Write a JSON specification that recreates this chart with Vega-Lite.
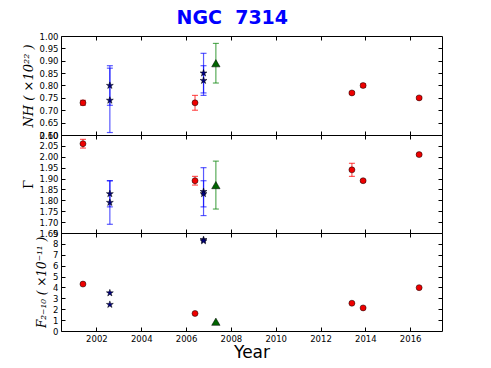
{
  "$schema": "https://vega.github.io/schema/vega-lite/v6.json",
  "padding": {"left": 21, "top": 8, "right": 5, "bottom": 5},
  "bounds": "flush",
  "title": {"text": "NGC \u00a07314", "font": "DejaVu Sans", "fontSize": 19, "fontWeight": "bold", "color": "#0000ff", "anchor": "middle", "offset": 4},
  "datasets": {
    "obs": [
      {"panel": "NH", "kind": "circle", "year": 2001.4, "val": 0.73, "lo": 0.72, "hi": 0.74},
      {"panel": "NH", "kind": "star", "year": 2002.6, "val": 0.80, "lo": 0.72, "hi": 0.88},
      {"panel": "NH", "kind": "star", "year": 2002.6, "val": 0.74, "lo": 0.61, "hi": 0.87},
      {"panel": "NH", "kind": "circle", "year": 2006.4, "val": 0.73, "lo": 0.70, "hi": 0.76},
      {"panel": "NH", "kind": "star", "year": 2006.78, "val": 0.85, "lo": 0.77, "hi": 0.93},
      {"panel": "NH", "kind": "star", "year": 2006.78, "val": 0.82, "lo": 0.76, "hi": 0.88},
      {"panel": "NH", "kind": "triangle", "year": 2007.33, "val": 0.89, "lo": 0.81, "hi": 0.97},
      {"panel": "NH", "kind": "circle", "year": 2013.4, "val": 0.77, "lo": 0.765, "hi": 0.775},
      {"panel": "NH", "kind": "circle", "year": 2013.9, "val": 0.80, "lo": 0.793, "hi": 0.807},
      {"panel": "NH", "kind": "circle", "year": 2016.4, "val": 0.75, "lo": 0.745, "hi": 0.755},
      {"panel": "G", "kind": "circle", "year": 2001.4, "val": 2.06, "lo": 2.04, "hi": 2.08},
      {"panel": "G", "kind": "star", "year": 2002.6, "val": 1.83, "lo": 1.77, "hi": 1.89},
      {"panel": "G", "kind": "star", "year": 2002.6, "val": 1.79, "lo": 1.69, "hi": 1.89},
      {"panel": "G", "kind": "circle", "year": 2006.4, "val": 1.89, "lo": 1.87, "hi": 1.91},
      {"panel": "G", "kind": "star", "year": 2006.78, "val": 1.84, "lo": 1.73, "hi": 1.95},
      {"panel": "G", "kind": "star", "year": 2006.78, "val": 1.83, "lo": 1.77, "hi": 1.89},
      {"panel": "G", "kind": "triangle", "year": 2007.33, "val": 1.87, "lo": 1.76, "hi": 1.98},
      {"panel": "G", "kind": "circle", "year": 2013.4, "val": 1.94, "lo": 1.91, "hi": 1.97},
      {"panel": "G", "kind": "circle", "year": 2013.9, "val": 1.89, "lo": 1.885, "hi": 1.895},
      {"panel": "G", "kind": "circle", "year": 2016.4, "val": 2.01, "lo": 2.005, "hi": 2.015},
      {"panel": "F", "kind": "circle", "year": 2001.4, "val": 4.31},
      {"panel": "F", "kind": "star", "year": 2002.6, "val": 3.49},
      {"panel": "F", "kind": "star", "year": 2002.6, "val": 2.43},
      {"panel": "F", "kind": "circle", "year": 2006.4, "val": 1.61},
      {"panel": "F", "kind": "star", "year": 2006.78, "val": 8.39},
      {"panel": "F", "kind": "star", "year": 2006.78, "val": 8.27},
      {"panel": "F", "kind": "triangle", "year": 2007.33, "val": 0.85},
      {"panel": "F", "kind": "circle", "year": 2013.4, "val": 2.55},
      {"panel": "F", "kind": "circle", "year": 2013.9, "val": 2.12},
      {"panel": "F", "kind": "circle", "year": 2016.4, "val": 3.98}
    ]
  },
  "data": {"name": "obs"},
  "spacing": 0,
  "vconcat": [
    {
      "width": 381, "height": 99,
      "transform": [{"filter": "datum.panel == 'NH'"}],
      "layer": [
        {
          "layer": [
            {"mark": {"type": "rule", "strokeWidth": 1.2, "opacity": 0.65},
             "encoding": {
               "x": {"field": "year", "type": "quantitative", "scale": {"domain": [2000.42, 2017.42], "nice": false, "zero": false}, "axis": {"values": [2002, 2004, 2006, 2008, 2010, 2012, 2014, 2016], "labels": false, "title": null}},
               "y": {"field": "lo", "type": "quantitative", "scale": {"domain": [0.6, 1.0], "nice": false, "zero": false}, "axis": {"values": [0.6, 0.65, 0.7, 0.75, 0.8, 0.85, 0.9, 0.95, 1.0], "format": ".2f", "labelOverlap": false, "title": "NH ( ×10²² )"}},
               "y2": {"field": "hi"},
               "color": {"field": "kind", "type": "nominal", "scale": {"domain": ["circle", "star", "triangle"], "range": ["#ff0000", "#0000ff", "#008000"]}, "legend": null}
             }},
            {"mark": {"type": "tick", "orient": "horizontal", "size": 6, "thickness": 1.2, "opacity": 0.65},
             "encoding": {
               "x": {"field": "year", "type": "quantitative", "axis": {"values": [2002, 2004, 2006, 2008, 2010, 2012, 2014, 2016], "labels": false, "title": null}},
               "y": {"field": "lo", "type": "quantitative", "axis": {"values": [0.6, 0.65, 0.7, 0.75, 0.8, 0.85, 0.9, 0.95, 1.0], "format": ".2f", "labelOverlap": false, "title": "NH ( ×10²² )"}},
               "color": {"field": "kind", "type": "nominal", "scale": {"domain": ["circle", "star", "triangle"], "range": ["#ff0000", "#0000ff", "#008000"]}, "legend": null}
             }},
            {"mark": {"type": "tick", "orient": "horizontal", "size": 6, "thickness": 1.2, "opacity": 0.65},
             "encoding": {
               "x": {"field": "year", "type": "quantitative", "axis": {"values": [2002, 2004, 2006, 2008, 2010, 2012, 2014, 2016], "labels": false, "title": null}},
               "y": {"field": "hi", "type": "quantitative", "axis": {"values": [0.6, 0.65, 0.7, 0.75, 0.8, 0.85, 0.9, 0.95, 1.0], "format": ".2f", "labelOverlap": false, "title": "NH ( ×10²² )"}},
               "color": {"field": "kind", "type": "nominal", "scale": {"domain": ["circle", "star", "triangle"], "range": ["#ff0000", "#0000ff", "#008000"]}, "legend": null}
             }},
            {"mark": {"type": "point", "filled": true, "opacity": 1, "stroke": "#000000", "strokeWidth": 0.5},
             "encoding": {
               "x": {"field": "year", "type": "quantitative", "axis": {"values": [2002, 2004, 2006, 2008, 2010, 2012, 2014, 2016], "labels": false, "title": null}},
               "y": {"field": "val", "type": "quantitative", "axis": {"values": [0.6, 0.65, 0.7, 0.75, 0.8, 0.85, 0.9, 0.95, 1.0], "format": ".2f", "labelOverlap": false, "title": "NH ( ×10²² )"}},
               "shape": {"field": "kind", "type": "nominal", "scale": {"domain": ["circle", "star", "triangle"], "range": ["circle", "M0,-1L0.2245,-0.309L0.951,-0.309L0.363,0.118L0.588,0.809L0,0.382L-0.588,0.809L-0.363,0.118L-0.951,-0.309L-0.2245,-0.309Z", "triangle-up"]}, "legend": null},
               "size": {"field": "kind", "type": "nominal", "scale": {"domain": ["circle", "star", "triangle"], "range": [36, 70, 60]}, "legend": null},
               "color": {"field": "kind", "type": "nominal", "scale": {"domain": ["circle", "star", "triangle"], "range": ["#ee0000", "#000080", "#006400"]}, "legend": null}
             }}
          ],
          "resolve": {"scale": {"color": "independent"}}
        },
        {"mark": {"type": "point", "opacity": 0},
         "encoding": {
           "x": {"field": "year", "type": "quantitative", "axis": {"orient": "top", "values": [2002, 2004, 2006, 2008, 2010, 2012, 2014, 2016], "labels": false, "title": null}},
           "y": {"field": "val", "type": "quantitative", "axis": {"orient": "right", "values": [0.65, 0.7, 0.75, 0.8, 0.85, 0.9, 0.95], "labels": false, "title": null}}
         }}
      ],
      "resolve": {"axis": {"x": "independent", "y": "independent"}}
    },
    {
      "width": 381, "height": 98,
      "transform": [{"filter": "datum.panel == 'G'"}],
      "layer": [
        {
          "layer": [
            {"mark": {"type": "rule", "strokeWidth": 1.2, "opacity": 0.65},
             "encoding": {
               "x": {"field": "year", "type": "quantitative", "scale": {"domain": [2000.42, 2017.42], "nice": false, "zero": false}, "axis": {"values": [2002, 2004, 2006, 2008, 2010, 2012, 2014, 2016], "labels": false, "title": null}},
               "y": {"field": "lo", "type": "quantitative", "scale": {"domain": [1.65, 2.1], "nice": false, "zero": false}, "axis": {"values": [1.65, 1.7, 1.75, 1.8, 1.85, 1.9, 1.95, 2.0, 2.05, 2.1], "format": ".2f", "labelOverlap": false, "title": "Γ", "titleFontStyle": "normal"}},
               "y2": {"field": "hi"},
               "color": {"field": "kind", "type": "nominal", "scale": {"domain": ["circle", "star", "triangle"], "range": ["#ff0000", "#0000ff", "#008000"]}, "legend": null}
             }},
            {"mark": {"type": "tick", "orient": "horizontal", "size": 6, "thickness": 1.2, "opacity": 0.65},
             "encoding": {
               "x": {"field": "year", "type": "quantitative", "axis": {"values": [2002, 2004, 2006, 2008, 2010, 2012, 2014, 2016], "labels": false, "title": null}},
               "y": {"field": "lo", "type": "quantitative", "axis": {"values": [1.65, 1.7, 1.75, 1.8, 1.85, 1.9, 1.95, 2.0, 2.05, 2.1], "format": ".2f", "labelOverlap": false, "title": "Γ", "titleFontStyle": "normal"}},
               "color": {"field": "kind", "type": "nominal", "scale": {"domain": ["circle", "star", "triangle"], "range": ["#ff0000", "#0000ff", "#008000"]}, "legend": null}
             }},
            {"mark": {"type": "tick", "orient": "horizontal", "size": 6, "thickness": 1.2, "opacity": 0.65},
             "encoding": {
               "x": {"field": "year", "type": "quantitative", "axis": {"values": [2002, 2004, 2006, 2008, 2010, 2012, 2014, 2016], "labels": false, "title": null}},
               "y": {"field": "hi", "type": "quantitative", "axis": {"values": [1.65, 1.7, 1.75, 1.8, 1.85, 1.9, 1.95, 2.0, 2.05, 2.1], "format": ".2f", "labelOverlap": false, "title": "Γ", "titleFontStyle": "normal"}},
               "color": {"field": "kind", "type": "nominal", "scale": {"domain": ["circle", "star", "triangle"], "range": ["#ff0000", "#0000ff", "#008000"]}, "legend": null}
             }},
            {"mark": {"type": "point", "filled": true, "opacity": 1, "stroke": "#000000", "strokeWidth": 0.5},
             "encoding": {
               "x": {"field": "year", "type": "quantitative", "axis": {"values": [2002, 2004, 2006, 2008, 2010, 2012, 2014, 2016], "labels": false, "title": null}},
               "y": {"field": "val", "type": "quantitative", "axis": {"values": [1.65, 1.7, 1.75, 1.8, 1.85, 1.9, 1.95, 2.0, 2.05, 2.1], "format": ".2f", "labelOverlap": false, "title": "Γ", "titleFontStyle": "normal"}},
               "shape": {"field": "kind", "type": "nominal", "scale": {"domain": ["circle", "star", "triangle"], "range": ["circle", "M0,-1L0.2245,-0.309L0.951,-0.309L0.363,0.118L0.588,0.809L0,0.382L-0.588,0.809L-0.363,0.118L-0.951,-0.309L-0.2245,-0.309Z", "triangle-up"]}, "legend": null},
               "size": {"field": "kind", "type": "nominal", "scale": {"domain": ["circle", "star", "triangle"], "range": [36, 70, 60]}, "legend": null},
               "color": {"field": "kind", "type": "nominal", "scale": {"domain": ["circle", "star", "triangle"], "range": ["#ee0000", "#000080", "#006400"]}, "legend": null}
             }}
          ],
          "resolve": {"scale": {"color": "independent"}}
        },
        {"mark": {"type": "point", "opacity": 0},
         "encoding": {
           "x": {"field": "year", "type": "quantitative", "axis": {"orient": "top", "values": [2002, 2004, 2006, 2008, 2010, 2012, 2014, 2016], "labels": false, "title": null}},
           "y": {"field": "val", "type": "quantitative", "axis": {"orient": "right", "values": [1.7, 1.75, 1.8, 1.85, 1.9, 1.95, 2.0, 2.05], "labels": false, "title": null}}
         }}
      ],
      "resolve": {"axis": {"x": "independent", "y": "independent"}}
    },
    {
      "width": 381, "height": 98,
      "transform": [{"filter": "datum.panel == 'F'"}],
      "layer": [
        {"mark": {"type": "point", "filled": true, "opacity": 1, "stroke": "#000000", "strokeWidth": 0.5},
         "encoding": {
           "x": {"field": "year", "type": "quantitative", "scale": {"domain": [2000.42, 2017.42], "nice": false, "zero": false}, "axis": {"values": [2002, 2004, 2006, 2008, 2010, 2012, 2014, 2016], "format": "d", "labelOverlap": false, "title": "Year"}},
           "y": {"field": "val", "type": "quantitative", "scale": {"domain": [0, 9], "nice": false}, "axis": {"values": [0, 1, 2, 3, 4, 5, 6, 7, 8, 9], "format": "d", "labelOverlap": false, "title": "F₂₋₁₀ ( ×10⁻¹¹ )", "titleFontSize": 12}},
           "shape": {"field": "kind", "type": "nominal", "scale": {"domain": ["circle", "star", "triangle"], "range": ["circle", "M0,-1L0.2245,-0.309L0.951,-0.309L0.363,0.118L0.588,0.809L0,0.382L-0.588,0.809L-0.363,0.118L-0.951,-0.309L-0.2245,-0.309Z", "triangle-up"]}, "legend": null},
           "size": {"field": "kind", "type": "nominal", "scale": {"domain": ["circle", "star", "triangle"], "range": [36, 70, 60]}, "legend": null},
           "color": {"field": "kind", "type": "nominal", "scale": {"domain": ["circle", "star", "triangle"], "range": ["#ee0000", "#000080", "#006400"]}, "legend": null}
         }},
        {"mark": {"type": "point", "opacity": 0},
         "encoding": {
           "x": {"field": "year", "type": "quantitative", "axis": {"orient": "top", "values": [2002, 2004, 2006, 2008, 2010, 2012, 2014, 2016], "labels": false, "title": null}},
           "y": {"field": "val", "type": "quantitative", "axis": {"orient": "right", "values": [1, 2, 3, 4, 5, 6, 7, 8], "labels": false, "title": null}}
         }}
      ],
      "resolve": {"axis": {"x": "independent", "y": "independent"}}
    }
  ],
  "config": {
    "view": {"stroke": "#000000", "strokeWidth": 1},
    "concat": {"spacing": 0},
    "axis": {
      "domain": false, "grid": false,
      "tickSize": -4, "tickColor": "#000000", "tickWidth": 1,
      "labelFont": "DejaVu Sans", "labelFontSize": 8.5, "labelColor": "#000000", "labelPadding": 7,
      "labelOverlap": false, "labelFlush": false, "labelBound": false,
      "titleFont": "DejaVu Serif", "titleFontSize": 13, "titleFontWeight": "normal", "titleFontStyle": "italic", "titleColor": "#000000", "titlePadding": 4
    },
    "axisX": {"titleFont": "DejaVu Sans", "titleFontStyle": "normal", "titleFontSize": 17, "titlePadding": 2}
  }
}
